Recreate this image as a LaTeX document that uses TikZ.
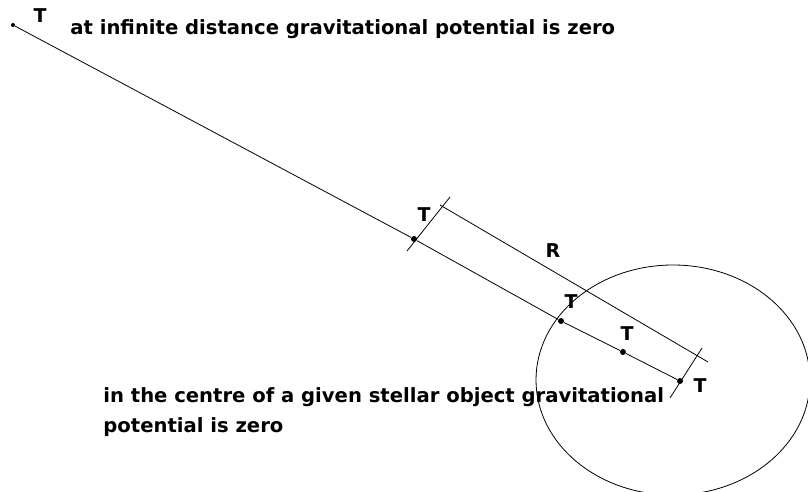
\documentclass[tikz,border=0pt]{standalone}
\usepackage{fontspec}
\setmainfont{DejaVu Sans}
\begin{document}
\begin{tikzpicture}[x=1pt,y=-1pt,line width=0.8pt,
  dot/.style={circle,fill=black,inner sep=0pt,minimum size=6pt},
  smalldot/.style={circle,fill=black,inner sep=0pt,minimum size=4pt},
  lbl/.style={font=\bfseries\fontsize{19}{22}\selectfont,inner sep=0pt},
  note/.style={font=\bfseries\fontsize{19.6}{30}\selectfont,inner sep=0pt,align=left}]
\useasboundingbox (0,0) rectangle (808,492);
% the stellar object
\draw (673,380) ellipse [x radius=137, y radius=115];
% points along the line
\node[smalldot] (inf) at (13,25) {};
\node[dot] (p1) at (414,239) {};
\node[dot] (p2) at (561,321) {};
\node[dot] (p3) at (623,352) {};
\node[dot] (p4) at (680,381) {};
\draw (inf) -- (p1) -- (p2) -- (p3) -- (p4);
% ticks and distance line
\coordinate (t1a) at (407,251);
\coordinate (t1b) at (450,197);
\coordinate (t2a) at (670,398);
\coordinate (t2b) at (702,348);
\coordinate (ra) at (440,205);
\coordinate (rb) at (708,362);
\draw (t1a) -- (t1b);
\draw (t2a) -- (t2b);
\draw (ra) -- (rb);
% labels
\node[lbl] (T0) at (40,16) {T};
\node[lbl] (T1) at (424,215) {T};
\node[lbl] (T2) at (571,302) {T};
\node[lbl] (T3) at (627,334) {T};
\node[lbl] (T4) at (700,386) {T};
\node[lbl] (R) at (553,251) {R};
\node[note,anchor=base west] (top) at (70,35) {at infinite distance gravitational potential is zero};
\node[note,anchor=base west] (bottom) at (103,432) {in the centre of a given stellar object gravitational\\potential is zero};
\end{tikzpicture}
\end{document}
